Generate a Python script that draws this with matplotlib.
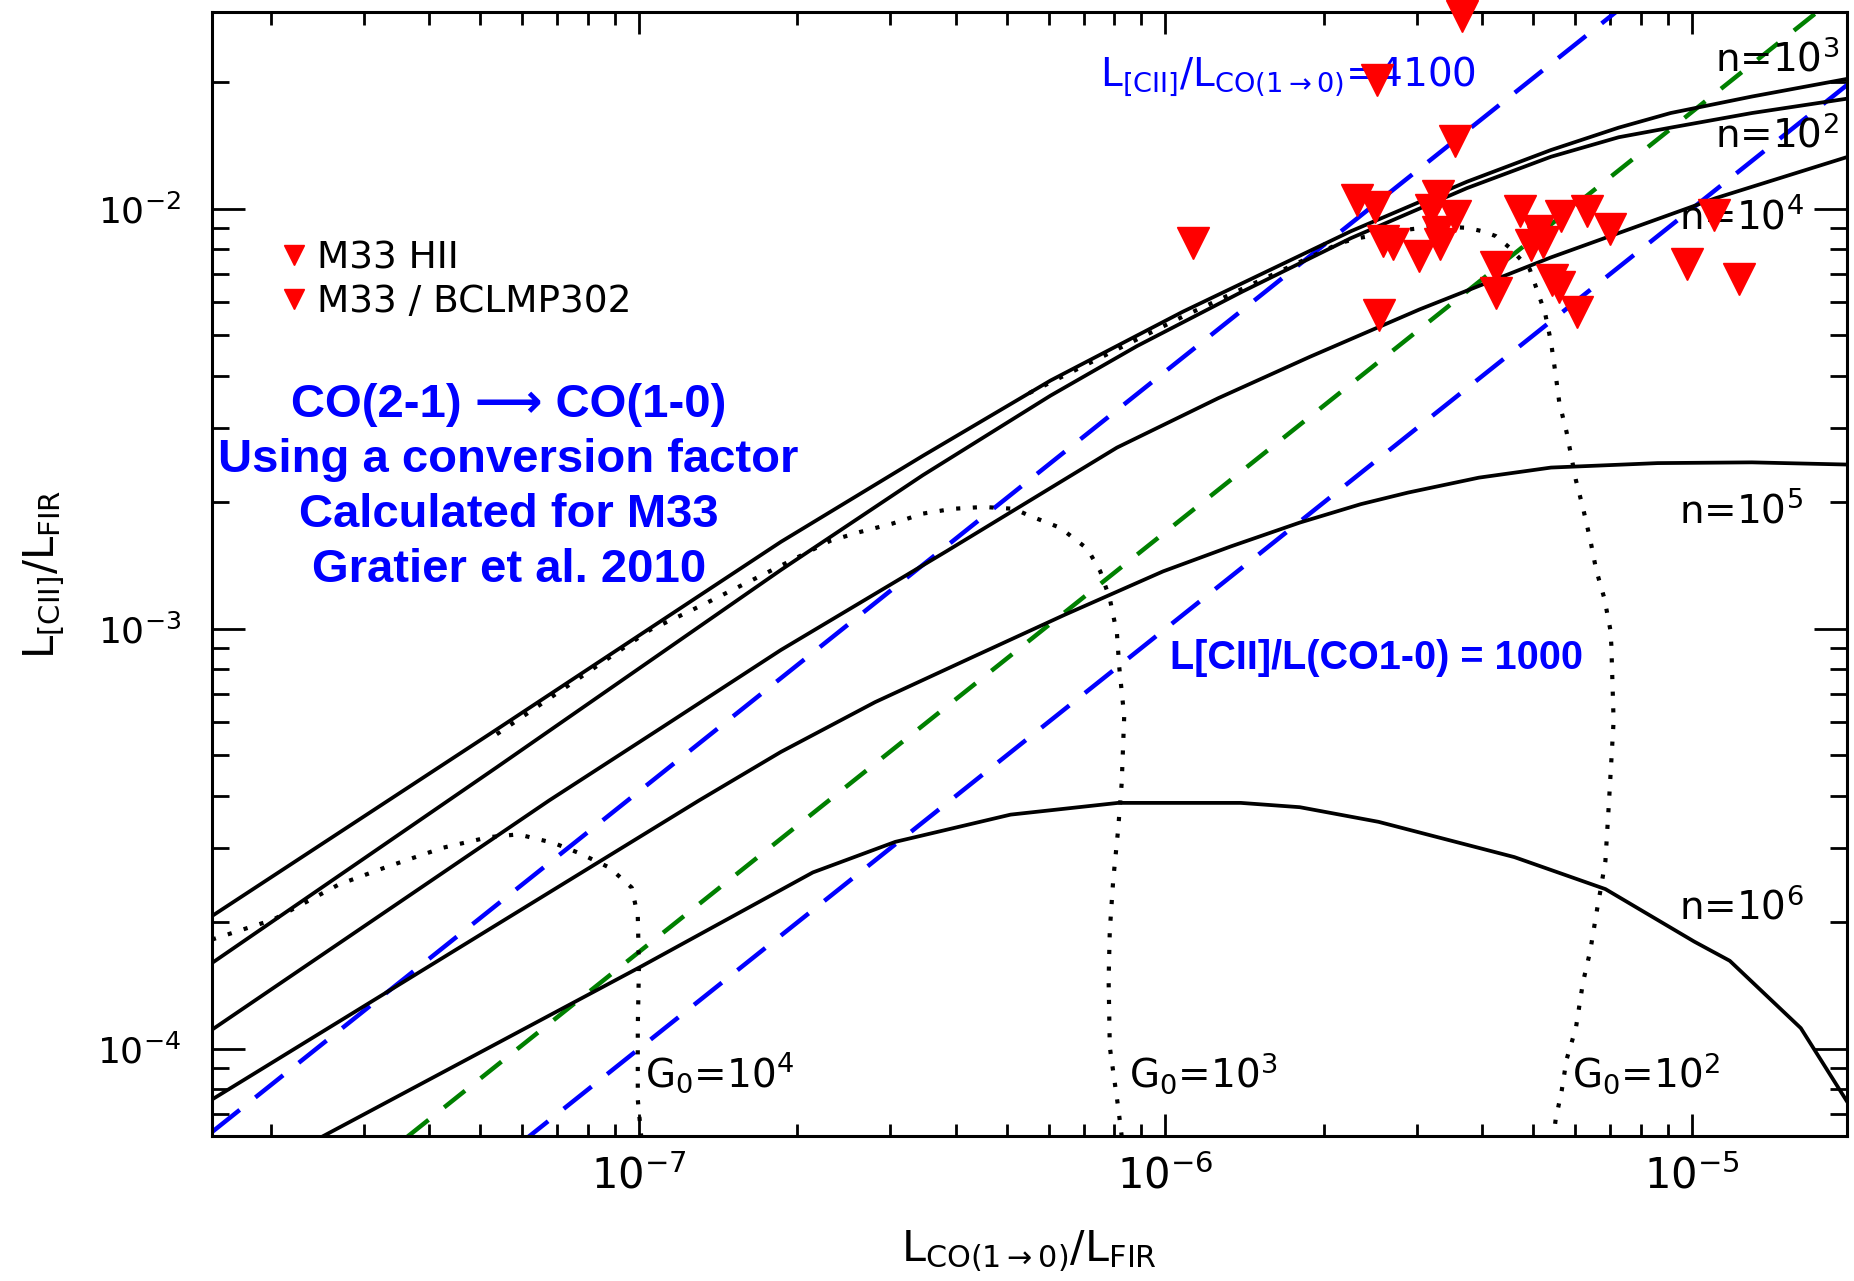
import matplotlib.pyplot as plt
from matplotlib import font_manager
from matplotlib.ticker import NullFormatter

# PDR model grid (constant density n, constant G0) with M33 [CII] / CO points

names = {f.name for f in font_manager.fontManager.ttflist}
thin = 'Liberation Sans Narrow' if 'Liberation Sans Narrow' in names else 'DejaVu Sans'
plt.rcParams['font.family'] = [thin, 'DejaVu Sans']
plt.rcParams['mathtext.fontset'] = 'custom'
plt.rcParams['mathtext.rm'] = thin
plt.rcParams['mathtext.it'] = thin
plt.rcParams['mathtext.bf'] = thin

# constant density curves
n2_x = [1.545e-8, 5.37e-8, 1.86e-7, 3.46e-7, 6.05e-7, 8.83e-7, 1.40e-6, 2.25e-6, 3.74e-6,
        5.40e-6, 7.26e-6, 9.11e-6, 1.30e-5, 1.98e-5]
n2_y = [1.60e-4, 4.68e-4, 1.38e-3, 2.32e-3, 3.59e-3, 4.71e-3, 6.35e-3, 8.51e-3, 1.12e-2,
        1.33e-2, 1.48e-2, 1.56e-2, 1.69e-2, 1.83e-2]
n3_x = [1.545e-8, 5.37e-8, 1.86e-7, 3.46e-7, 6.05e-7, 1.08e-6, 2.25e-6, 3.74e-6, 5.40e-6,
        7.26e-6, 9.11e-6, 1.30e-5, 1.98e-5]
n3_y = [2.07e-4, 5.76e-4, 1.61e-3, 2.58e-3, 3.90e-3, 5.69e-3, 8.84e-3, 1.16e-2, 1.38e-2,
        1.56e-2, 1.69e-2, 1.85e-2, 2.04e-2]
n4_x = [1.545e-8, 3.21e-8, 6.75e-8, 1.11e-7, 1.86e-7, 3.84e-7, 8.09e-7, 1.26e-6, 1.88e-6,
        3.04e-6, 5.40e-6, 1.11e-5, 1.98e-5]
n4_y = [1.11e-4, 2.07e-4, 3.90e-4, 5.84e-4, 8.90e-4, 1.53e-3, 2.70e-3, 3.54e-3, 4.44e-3,
        5.76e-3, 7.66e-3, 1.06e-2, 1.33e-2]
n5_x = [1.545e-8, 1.30e-7, 1.86e-7, 2.81e-7, 4.30e-7, 6.44e-7, 9.90e-7, 1.33e-6, 1.80e-6,
        2.35e-6, 2.89e-6, 3.94e-6, 5.40e-6, 8.61e-6, 1.30e-5, 1.98e-5]
n5_y = [7.57e-5, 3.90e-4, 5.09e-4, 6.69e-4, 8.56e-4, 1.08e-3, 1.37e-3, 1.57e-3, 1.79e-3,
        1.98e-3, 2.11e-3, 2.29e-3, 2.42e-3, 2.48e-3, 2.49e-3, 2.46e-3]
n6_x = [2.51e-8, 1.00e-7, 2.14e-7, 3.07e-7, 5.08e-7, 8.13e-7, 1.39e-6, 1.80e-6, 2.54e-6,
        4.60e-6, 6.85e-6, 1.01e-5, 1.18e-5, 1.61e-5, 1.98e-5]
n6_y = [6.19e-5, 1.56e-4, 2.63e-4, 3.11e-4, 3.61e-4, 3.85e-4, 3.85e-4, 3.76e-4, 3.47e-4,
        2.86e-4, 2.40e-4, 1.80e-4, 1.62e-4, 1.12e-4, 7.42e-5]

# constant G0 curves
g4_x = [1.545e-8, 2.02e-8, 2.69e-8, 3.29e-8, 4.24e-8, 5.18e-8, 5.90e-8, 6.89e-8, 7.72e-8,
        8.79e-8, 9.69e-8, 9.95e-8, 1.00e-7, 9.95e-8, 9.95e-8, 1.01e-7]
g4_y = [1.82e-4, 2.03e-4, 2.46e-4, 2.70e-4, 3.01e-4, 3.19e-4, 3.24e-4, 3.09e-4, 2.92e-4,
        2.70e-4, 2.42e-4, 2.07e-4, 1.56e-4, 1.13e-4, 7.57e-5, 6.19e-5]
g3_x = [5.37e-8, 1.05e-7, 1.19e-7, 1.34e-7, 1.51e-7, 1.73e-7, 2.31e-7, 2.63e-7, 3.03e-7,
        3.46e-7, 3.94e-7, 4.51e-7, 5.16e-7, 5.51e-7, 6.31e-7, 7.11e-7, 7.52e-7, 7.84e-7,
        8.09e-7, 8.17e-7, 8.35e-7, 8.26e-7, 8.13e-7, 7.96e-7, 7.84e-7, 7.80e-7, 7.84e-7,
        8.13e-7, 8.26e-7]
g3_y = [5.61e-4, 9.94e-4, 1.07e-3, 1.15e-3, 1.24e-3, 1.35e-3, 1.62e-3, 1.70e-3, 1.78e-3,
        1.88e-3, 1.93e-3, 1.95e-3, 1.93e-3, 1.86e-3, 1.74e-3, 1.55e-3, 1.37e-3, 1.18e-3,
        9.74e-4, 8.12e-4, 6.19e-4, 4.30e-4, 3.32e-4, 2.53e-4, 1.91e-4, 1.46e-4, 1.01e-4,
        7.28e-5, 6.19e-5]
g2_x = [5.51e-7, 1.08e-6, 2.15e-6, 2.32e-6, 2.84e-6, 3.24e-6, 3.74e-6, 4.00e-6, 4.24e-6,
        4.51e-6, 4.92e-6, 5.26e-6, 5.40e-6, 5.51e-6, 5.60e-6, 5.78e-6, 6.02e-6, 6.21e-6,
        6.41e-6, 6.58e-6, 6.82e-6, 7.00e-6, 7.03e-6, 7.10e-6, 6.96e-6, 6.85e-6, 6.71e-6,
        6.61e-6, 6.41e-6, 6.21e-6, 6.02e-6, 5.78e-6, 5.66e-6, 5.51e-6, 5.46e-6]
g2_y = [3.64e-3, 5.54e-3, 8.29e-3, 8.51e-3, 8.90e-3, 9.07e-3, 9.01e-3, 8.84e-3, 8.61e-3,
        8.07e-3, 7.18e-3, 5.65e-3, 4.81e-3, 4.03e-3, 3.45e-3, 2.94e-3, 2.26e-3, 1.94e-3,
        1.63e-3, 1.38e-3, 1.18e-3, 9.94e-4, 9.13e-4, 6.03e-4, 3.90e-4, 2.80e-4, 2.40e-4,
        2.16e-4, 1.71e-4, 1.44e-4, 1.12e-4, 9.43e-5, 7.97e-5, 6.78e-5, 6.19e-5]

# L[CII]/L_CO(1-0) ratio lines
ratio_blue = [4100, 1000]
ratio_green = [1700]

# M33 points (upper limits)
hii_x = [3.66e-6, 2.52e-6, 3.55e-6, 1.13e-6, 9.79e-6, 1.10e-5, 1.23e-5]
hii_y = [2.88e-2, 2.03e-2, 1.45e-2, 8.29e-3, 7.37e-3, 9.68e-3, 6.82e-3]
bcl_x = [2.31e-6, 2.50e-6, 3.30e-6, 3.20e-6, 3.55e-6, 2.59e-6, 2.71e-6, 3.03e-6, 3.32e-6,
         3.30e-6, 2.55e-6, 4.24e-6, 4.24e-6, 4.72e-6, 5.10e-6, 5.21e-6, 5.63e-6, 6.31e-6,
         7.00e-6, 5.43e-6, 5.60e-6, 6.05e-6, 4.95e-6]
bcl_y = [1.05e-2, 1.01e-2, 1.07e-2, 9.94e-3, 9.62e-3, 8.39e-3, 8.23e-3, 7.72e-3, 8.23e-3,
         8.79e-3, 5.58e-3, 7.28e-3, 6.31e-3, 9.87e-3, 8.84e-3, 8.34e-3, 9.62e-3, 9.87e-3,
         8.96e-3, 6.78e-3, 6.52e-3, 5.69e-3, 8.18e-3]

xlim = (1.545e-8, 1.97e-5)
ylim = (6.2e-5, 2.94e-2)

fig = plt.figure(figsize=(18.54, 12.81), dpi=100)
ax = fig.add_axes([0.1143, 0.1132, 0.8819, 0.8774])
ax.set_xscale('log')
ax.set_yscale('log')

for xs, ys in [(n2_x, n2_y), (n3_x, n3_y), (n4_x, n4_y), (n5_x, n5_y), (n6_x, n6_y)]:
    ax.plot(xs, ys, color='black', lw=2.7, zorder=3)
for xs, ys in [(g4_x, g4_y), (g3_x, g3_y), (g2_x, g2_y)]:
    ax.plot(xs, ys, color='black', lw=3.0, ls=(0, (1, 3.0)), zorder=3)

for r in ratio_blue:
    ax.plot(xlim, [r * xlim[0], r * xlim[1]], color='#0000ff', lw=3.2, ls=(0, (8, 4.5)), zorder=2)
for r in ratio_green:
    ax.plot(xlim, [r * xlim[0], r * xlim[1]], color='#008000', lw=3.2, ls=(0, (6, 4.5)), zorder=2)

h1, = ax.plot(hii_x, hii_y, 'v', color='red', ms=23, ls='none', zorder=5, clip_on=False)
h2, = ax.plot(bcl_x, bcl_y, 'v', color='red', ms=23, ls='none', zorder=5)

ax.set_xlim(xlim)
ax.set_ylim(ylim)

leg = ax.legend([h1, h2], ['M33 HII', 'M33 / BCLMP302'], loc='upper left',
                bbox_to_anchor=(0.04, 0.797), frameon=False, fontsize=27,
                handletextpad=0.15, borderaxespad=0, borderpad=0, labelspacing=0.2,
                handlelength=0.9, markerscale=0.65)

# labels on the model grid
kw = dict(transform=ax.transAxes, fontsize=28, color='black', va='center', ha='left')
ax.text(0.919, 0.958, r'n=10$^3$', **kw)
ax.text(0.919, 0.890, r'n=10$^2$', **kw)
ax.text(0.897, 0.818, r'n=10$^4$', **kw)
ax.text(0.897, 0.556, r'n=10$^5$', **kw)
ax.text(0.897, 0.203, r'n=10$^6$', **kw)
ax.text(0.265, 0.056, r'G$_0$=10$^4$', **kw)
ax.text(0.561, 0.056, r'G$_0$=10$^3$', **kw)
ax.text(0.832, 0.056, r'G$_0$=10$^2$', **kw)

ax.text(0.543, 0.943, r'L$_{[CII]}$/L$_{CO(1\rightarrow0)}$=4100',
        transform=ax.transAxes, fontsize=28, color='#0000ff', va='center', ha='left')

bold = dict(transform=ax.transAxes, color='#0000ff', fontweight='bold',
            family=['Liberation Sans', 'DejaVu Sans'])
ax.text(0.586, 0.425, 'L[CII]/L(CO1-0) = 1000', fontsize=28.5, va='center', ha='left', **bold)
ax.text(0.1815, 0.577, 'CO(2-1) \u27f6 CO(1-0)\nUsing a conversion factor\nCalculated for M33\nGratier et al. 2010',
        fontsize=34, va='center', ha='center', multialignment='center', linespacing=1.32, **bold)

ax.set_xlabel(r'L$_{CO(1\rightarrow0)}$/L$_{FIR}$', fontsize=31, labelpad=22)
ax.set_ylabel(r'L$_{[CII]}$/L$_{FIR}$', fontsize=30, labelpad=22)

for s in ax.spines.values():
    s.set_linewidth(2.2)
ax.tick_params(which='both', direction='in', top=True, right=True, width=2)
ax.tick_params(axis='x', which='major', length=16, labelsize=30, pad=14)
ax.tick_params(axis='x', which='minor', length=9)
ax.tick_params(axis='y', which='major', length=24, labelsize=26, pad=22)
ax.tick_params(axis='y', which='minor', length=12)
ax.xaxis.set_minor_formatter(NullFormatter())
ax.yaxis.set_minor_formatter(NullFormatter())

fig.savefig('out.png', dpi=100)
